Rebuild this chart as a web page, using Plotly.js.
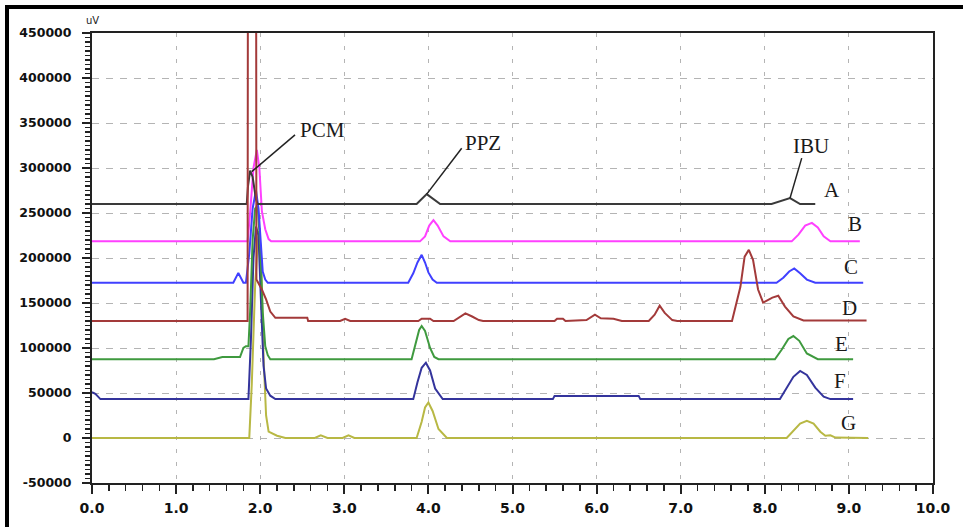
<!DOCTYPE html>
<html>
<head>
<meta charset="utf-8">
<script src="https://cdn.plot.ly/plotly-3.0.1.min.js"></script>
<style>
  html, body { margin: 0; padding: 0; background: #fff; }
  #chart { width: 963px; height: 527px; position: absolute; left: 0; top: 0; }
  #frame { position: absolute; left: 5px; top: 5px; width: 958px; height: 522px;
           border-left: 4px solid #000; border-top: 4px solid #000; pointer-events: none; }
</style>
</head>
<body>
<div id="chart"></div>
<div id="frame"></div>
<script>
// ---- data (time in min, signal in uV) ----
const seriesNames = ['A', 'B', 'C', 'D', 'E', 'F', 'G'];

const aX = [0, 1.84, 1.855, 1.88, 1.91, 1.95, 1.97, 3.86, 3.98, 4.14, 8.08, 8.30, 8.42, 8.60];
const aY = [260000, 260000, 280000, 297000, 290000, 265000, 260000, 260000, 271000, 260000, 260000, 266500, 260000, 260000];

const bX = [0, 1.85, 1.88, 1.92, 1.96, 1.99, 2.02, 2.06, 2.10, 2.13, 3.90, 3.96, 4.01, 4.06, 4.11, 4.18, 4.26, 8.32, 8.40, 8.48, 8.56, 8.63, 8.70, 8.78, 9.13];
const bY = [218500, 218500, 250000, 300000, 320000, 300000, 252000, 232000, 221000, 218500, 218500, 224000, 236000, 242000, 236000, 224000, 218500, 218500, 226000, 236000, 239000, 234000, 224000, 218500, 218500];

const cX = [0, 1.68, 1.74, 1.80, 1.83, 1.87, 1.91, 1.95, 1.98, 2.01, 2.03, 2.06, 2.09, 3.76, 3.82, 3.87, 3.92, 3.96, 4.00, 4.05, 4.10, 8.14, 8.22, 8.29, 8.35, 8.42, 8.50, 8.60, 9.17];
const cY = [172500, 172500, 183500, 172500, 172500, 205000, 255000, 275000, 255000, 210000, 185000, 176000, 172500, 172500, 183000, 195000, 203500, 195000, 184000, 176000, 172500, 172500, 178000, 185000, 188400, 183000, 176000, 172500, 172500];

const dX = [0, 1.85, 1.86, 1.945, 1.955, 2.02, 2.07, 2.12, 2.18, 2.56, 2.57, 2.95, 3.01, 3.07, 3.88, 3.92, 4.02, 4.06, 4.30, 4.37, 4.44, 4.52, 4.60, 4.65, 5.50, 5.53, 5.60, 5.63, 5.88, 5.98, 6.05, 6.20, 6.30, 6.62, 6.69, 6.75, 6.81, 6.90, 6.96, 7.61, 7.71, 7.76, 7.81, 7.86, 7.92, 7.98, 8.09, 8.16, 8.24, 8.34, 8.46, 9.21];
const dY = [130000, 130000, 1200000, 1200000, 176000, 165000, 154000, 140500, 133500, 133500, 130000, 130000, 132500, 130000, 130000, 132500, 132500, 130000, 130000, 134000, 138500, 135000, 131000, 130000, 130000, 132500, 132500, 130000, 131000, 137000, 133000, 132500, 130000, 130000, 137000, 147000, 139000, 131000, 130000, 130000, 168000, 201500, 209000, 198000, 165000, 150500, 156000, 158000, 146000, 135000, 130500, 130500];

const eX = [0, 1.45, 1.55, 1.76, 1.80, 1.83, 1.86, 1.88, 1.91, 1.94, 1.97, 2.00, 2.03, 2.06, 2.09, 2.12, 3.80, 3.85, 3.89, 3.92, 3.96, 4.02, 4.07, 4.12, 8.12, 8.20, 8.28, 8.34, 8.41, 8.50, 8.63, 9.05];
const eY = [87500, 87500, 90000, 90000, 100000, 102000, 102000, 140000, 220000, 255000, 258000, 215000, 140000, 102000, 92000, 87500, 87500, 105000, 120000, 124400, 119000, 100000, 90000, 87500, 87500, 98000, 110000, 113300, 108000, 94000, 87500, 87500];

const fX = [0, 0.04, 0.10, 1.86, 1.89, 1.92, 1.95, 1.98, 2.01, 2.04, 2.07, 2.12, 2.18, 3.82, 3.87, 3.92, 3.97, 4.02, 4.08, 4.17, 5.48, 5.50, 6.50, 6.52, 8.18, 8.26, 8.34, 8.42, 8.50, 8.60, 8.70, 8.78, 9.05];
const fY = [51000, 49000, 43200, 43200, 110000, 200000, 235000, 225000, 150000, 80000, 55000, 47000, 43200, 43200, 62000, 78000, 83700, 75000, 55000, 43200, 43200, 46800, 46800, 43200, 43200, 55000, 68000, 74500, 70000, 56000, 46000, 43200, 43200];

const gX = [0, 1.87, 1.90, 1.94, 1.98, 2.01, 2.04, 2.07, 2.10, 2.20, 2.30, 2.65, 2.72, 2.80, 2.98, 3.05, 3.12, 3.86, 3.92, 3.96, 4.00, 4.05, 4.12, 4.22, 8.26, 8.34, 8.42, 8.50, 8.58, 8.66, 8.72, 8.78, 8.84, 9.23];
const gY = [0, 0, 60000, 170000, 230000, 200000, 90000, 25000, 7000, 2500, 0, 0, 3000, 0, 0, 3000, 0, 0, 18000, 34000, 39500, 30000, 10000, 0, 0, 8000, 16000, 19000, 16000, 7000, 2500, 3000, 500, 0];

const xTickVals = [0, 1, 2, 3, 4, 5, 6, 7, 8, 9, 10];
const xTickText = ['0.0', '1.0', '2.0', '3.0', '4.0', '5.0', '6.0', '7.0', '8.0', '9.0', '10.0'];
const yTickVals = [-50000, 0, 50000, 100000, 150000, 200000, 250000, 300000, 350000, 400000, 450000];
const yTickText = ['-50000', '0', '50000', '100000', '150000', '200000', '250000', '300000', '350000', '400000', '450000'];

const peakNames = ['PCM', 'PPZ', 'IBU'];

// ---- traces ----
const colors = {A: '#3a3a3a', B: '#ff40ff', C: '#4040ff', D: '#a33a3a', E: '#3f9a3f', F: '#34349c', G: '#b8b844'};
const xs = {A: aX, B: bX, C: cX, D: dX, E: eX, F: fX, G: gX};
const ys = {A: aY, B: bY, C: cY, D: dY, E: eY, F: fY, G: gY};
const drawOrder = ['G', 'F', 'E', 'C', 'B', 'A', 'D'];
const traces = drawOrder.map(n => ({
  type: 'scatter', mode: 'lines', name: n,
  x: xs[n], y: ys[n],
  line: {color: colors[n], width: 2},
  hoverinfo: 'skip'
}));

const serif = {family: 'Liberation Serif, Times New Roman, serif', size: 21, color: '#1a1a1a'};
const labelPos = {A: [8.80, 276000], B: [9.07, 238000], C: [9.02, 189500], D: [9.01, 144000], E: [8.91, 104000], F: [8.89, 63000], G: [9.00, 16500]};
const annotations = seriesNames.map(n => ({
  x: labelPos[n][0], y: labelPos[n][1], xref: 'x', yref: 'y', text: n,
  showarrow: false, xanchor: 'center', yanchor: 'middle', font: serif
}));
const peakPos = [[2.735, 342500], [4.655, 327500], [8.55, 325000]];
peakNames.forEach((p, i) => annotations.push({
  x: peakPos[i][0], y: peakPos[i][1], xref: 'x', yref: 'y', text: p,
  showarrow: false, xanchor: 'center', yanchor: 'middle', font: serif
}));
annotations.push({
  x: 0, y: 1.027, xref: 'paper', yref: 'paper', text: 'uV', showarrow: false,
  xanchor: 'center', yanchor: 'middle',
  font: {family: 'DejaVu Sans', size: 10, color: '#222'}
});

const leader = (x0, y0, x1, y1) => ({type: 'line', xref: 'x', yref: 'y', x0, y0, x1, y1,
  line: {color: '#222', width: 1.5}});
const shapes = [
  leader(1.899, 296000, 2.414, 336800),
  leader(3.98, 271000, 4.396, 322000),
  leader(8.30, 266500, 8.439, 311000)
];

const tickFontY = {family: 'DejaVu Sans', size: 12.5, color: '#111', weight: 'bold'};
const tickFontX = {family: 'DejaVu Sans', size: 14, color: '#111', weight: 'bold'};

const layout = {
  width: 963, height: 527,
  margin: {l: 92, r: 30, t: 33, b: 44, pad: 0},
  paper_bgcolor: '#ffffff', plot_bgcolor: '#ffffff',
  showlegend: false,
  xaxis: {
    range: [0, 10], tickvals: xTickVals, ticktext: xTickText,
    ticks: 'outside', ticklen: 9, tickwidth: 2, tickcolor: '#222',
    minor: {dtick: 0.2, ticks: 'outside', ticklen: 6, tickwidth: 1.5, tickcolor: '#222', showgrid: false},
    showline: true, linecolor: '#222', linewidth: 2, mirror: true,
    showgrid: true, gridcolor: '#b4b4b4', gridwidth: 1, griddash: '4px,9px',
    zeroline: false, tickfont: tickFontX, ticklabelstandoff: 2
  },
  yaxis: {
    range: [-50000, 450000], tickvals: yTickVals, ticktext: yTickText,
    ticks: 'outside', ticklen: 8, tickwidth: 2, tickcolor: '#222',
    minor: {dtick: 5000, ticks: 'outside', ticklen: 5, tickwidth: 1.2, tickcolor: '#222', showgrid: false},
    showline: true, linecolor: '#222', linewidth: 2, mirror: true,
    showgrid: true, gridcolor: '#b4b4b4', gridwidth: 1, griddash: '7px,7px',
    zeroline: false, tickfont: tickFontY, ticklabelstandoff: 8
  },
  annotations, shapes
};

Plotly.newPlot('chart', traces, layout, {displayModeBar: false, staticPlot: true});
</script>
</body>
</html>
